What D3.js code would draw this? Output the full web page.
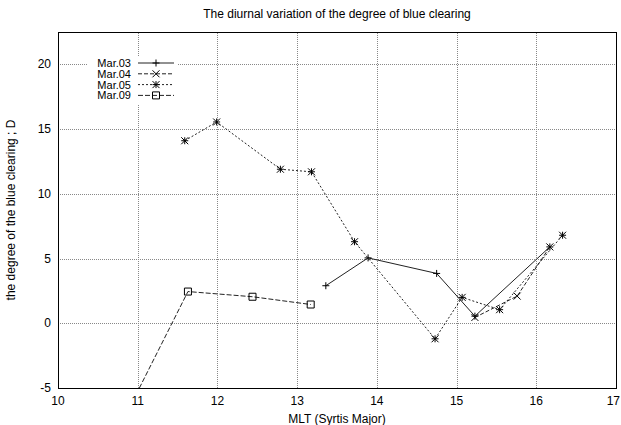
<!DOCTYPE html>
<html>
<head>
<meta charset="utf-8">
<script src="https://cdn.jsdelivr.net/npm/d3@7"></script>
<style>
  html, body { margin: 0; padding: 0; background: #fff; }
  text { font-family: "Liberation Sans", Arial, sans-serif; font-size: 12px; fill: #000; }
  text.key { font-size: 11px; }
</style>
</head>
<body>
<div id="b1"></div>
<script>
// series names
const seriesNames = ["Mar.03", "Mar.04", "Mar.05", "Mar.09"];

// MLT (hour) and D values
const mar03Mlt = [13.36, 13.89, 14.75, 15.23, 16.17];
const mar03D   = [2.9, 5.05, 3.85, 0.55, 5.9];
const mar04Mlt = [15.23, 15.76, 16.17];
const mar04D   = [0.45, 2.1, 5.9];
const mar05Mlt = [11.59, 11.99, 12.79, 13.18, 13.72, 14.73, 15.07, 15.54, 16.33];
const mar05D   = [14.1, 15.55, 11.9, 11.7, 6.3, -1.2, 2.0, 1.05, 6.8];
const mar09Mlt = [10.98, 11.63, 12.44, 13.17];
const mar09D   = [-5.5, 2.45, 2.05, 1.45];

// ticks
const xTicks = [10, 11, 12, 13, 14, 15, 16, 17];
const yTicks = [-5, 0, 5, 10, 15, 20];

const width = 621;
const height = 425;
const margin = {top: 32, right: 5, bottom: 37, left: 58};

const x = d3.scaleLinear().domain([10, 17]).range([margin.left, width - margin.right]);
const y = d3.scaleLinear().domain([-5, 22.5]).range([height - margin.bottom, margin.top]);

const svg = d3.create("svg")
    .attr("width", width)
    .attr("height", height)
    .attr("viewBox", [0, 0, width, height])
;

// 枠でクリップ
svg.append("clipPath")
    .attr("id", "plotclip")
  .append("rect")
    .attr("x", x(10))
    .attr("y", y(22.5))
    .attr("width", x(17) - x(10))
    .attr("height", y(-5) - y(22.5))
;

// grid
const grid = svg.append("g")
    .attr("stroke", "#888")
    .attr("stroke-width", 1)
    .attr("stroke-dasharray", "1,1")
    .attr("shape-rendering", "crispEdges")
;
grid.selectAll("line.gx")
    .data(xTicks.slice(1, -1))
    .join("line")
        .attr("class", "gx")
        .attr("x1", d => Math.round(x(d)) + 0.5)
        .attr("x2", d => Math.round(x(d)) + 0.5)
        .attr("y1", y(-5))
        .attr("y2", y(22.5))
;
grid.selectAll("line.gy")
    .data(yTicks.slice(1))
    .join("line")
        .attr("class", "gy")
        .attr("x1", x(10))
        .attr("x2", x(17))
        .attr("y1", d => Math.round(y(d)) + 0.5)
        .attr("y2", d => Math.round(y(d)) + 0.5)
;

// 凡例の背景（グリッドを隠す）
const keyX = 88, keyY = 56, keyRow = 10.8;
svg.append("rect")
    .attr("x", keyX)
    .attr("y", keyY)
    .attr("width", 90)
    .attr("height", 49)
    .attr("fill", "#fff")
;

// frame
svg.append("rect")
    .attr("x", Math.round(x(10)) + 0.5)
    .attr("y", Math.round(y(22.5)) + 0.5)
    .attr("width", Math.round(x(17)) - Math.round(x(10)))
    .attr("height", Math.round(y(-5)) - Math.round(y(22.5)))
    .attr("fill", "none")
    .attr("stroke", "#000")
    .attr("shape-rendering", "crispEdges")
;

// tick labels（右端の17ははみ出さないよう右寄せ）
svg.append("g")
    .selectAll("text")
    .data(xTicks)
    .join("text")
        .attr("x", d => d === 17 ? width - 1 : x(d))
        .attr("y", y(-5) + 17)
        .attr("text-anchor", d => d === 17 ? "end" : "middle")
        .text(d => d)
;
svg.append("g")
    .selectAll("text")
    .data(yTicks)
    .join("text")
        .attr("x", x(10) - 7)
        .attr("y", d => y(d) + 4)
        .attr("text-anchor", "end")
        .text(d => d)
;

// titles
svg.append("text")
    .attr("x", (x(10) + x(17)) / 2)
    .attr("y", 18)
    .attr("text-anchor", "middle")
    .text("The diurnal variation of the degree of blue clearing")
;
svg.append("text")
    .attr("x", (x(10) + x(17)) / 2)
    .attr("y", 423)
    .attr("text-anchor", "middle")
    .text("MLT (Syrtis Major)")
;
svg.append("text")
    .attr("transform", `translate(15,${(y(-5) + y(22.5)) / 2}) rotate(-90)`)
    .attr("text-anchor", "middle")
    .text("the degree of the blue clearing ; D")
;

// マーカーのパス
const ms = 3.5;
const markers = {
    plus: `M${-ms},0H${ms}M0,${-ms}V${ms}`,
    cross: `M${-ms},${-ms}L${ms},${ms}M${-ms},${ms}L${ms},${-ms}`,
    star: `M${-ms},0H${ms}M0,${-ms}V${ms}M${-ms},${-ms}L${ms},${ms}M${-ms},${ms}L${ms},${-ms}`,
    square: `M${-ms},${-ms}H${ms}V${ms}H${-ms}Z`
};

const series = [
    {name: seriesNames[0], xs: mar03Mlt, ys: mar03D, dash: null, marker: markers.plus},
    {name: seriesNames[1], xs: mar04Mlt, ys: mar04D, dash: "4,2", marker: markers.cross},
    {name: seriesNames[2], xs: mar05Mlt, ys: mar05D, dash: "2,2", marker: markers.star},
    {name: seriesNames[3], xs: mar09Mlt, ys: mar09D, dash: "5,2", marker: markers.square}
];

const line = d3.line()
    .x(d => x(d[0]))
    .y(d => y(d[1]))
;

const plot = svg.append("g")
    .attr("clip-path", "url(#plotclip)")
;

series.forEach(s => {
    const pts = s.xs.map((v, i) => [v, s.ys[i]]);
    plot.append("path")
        .datum(pts)
        .attr("d", line)
        .attr("fill", "none")
        .attr("stroke", "#222")
        .attr("stroke-width", 1)
        .attr("stroke-dasharray", s.dash)
    ;
    plot.selectAll(null)
        .data(pts.filter(d => d[1] >= -5))
        .join("path")
            .attr("transform", d => `translate(${x(d[0])},${y(d[1])})`)
            .attr("d", s.marker)
            .attr("fill", "none")
            .attr("stroke", "#000")
            .attr("stroke-width", 1)
    ;
});

// legend
series.forEach((s, i) => {
    const cy = 63 + i * keyRow;
    svg.append("text")
        .attr("class", "key")
        .attr("x", 131)
        .attr("y", cy + 4)
        .attr("text-anchor", "end")
        .text(s.name)
    ;
    svg.append("line")
        .attr("x1", 138)
        .attr("x2", 174)
        .attr("y1", cy)
        .attr("y2", cy)
        .attr("stroke", "#222")
        .attr("stroke-dasharray", s.dash)
    ;
    svg.append("path")
        .attr("transform", `translate(156,${cy})`)
        .attr("d", s.marker)
        .attr("fill", "none")
        .attr("stroke", "#000")
    ;
});

document.getElementById("b1")
    .append(svg.node());
</script>
</body>
</html>
